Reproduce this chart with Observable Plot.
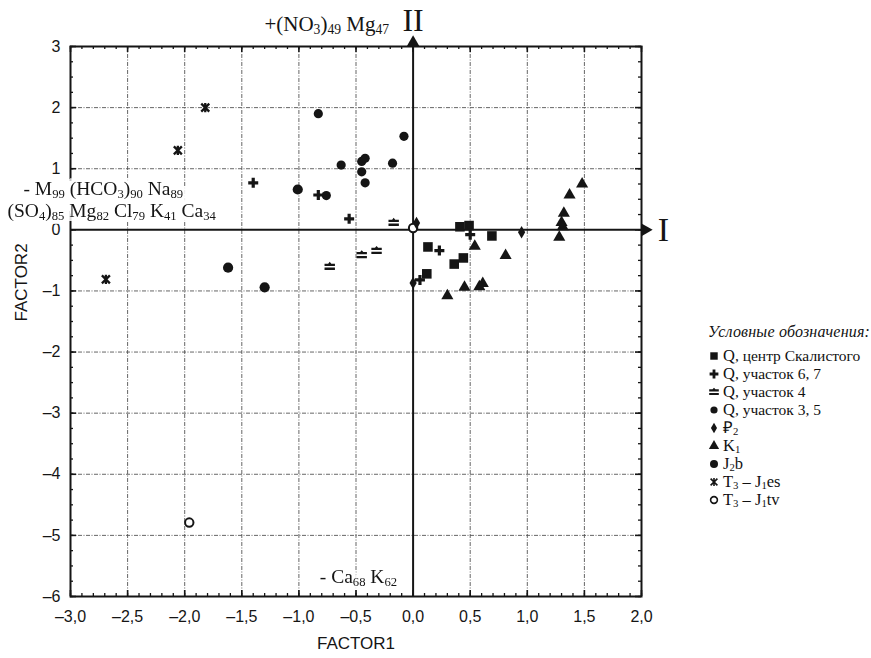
<!DOCTYPE html>
<html><head><meta charset="utf-8">
<script src="https://cdn.jsdelivr.net/npm/d3@7"></script>
<script src="https://cdn.jsdelivr.net/npm/@observablehq/plot@0.6"></script>
<style>
body{margin:0;background:#fff}
#wrap{position:relative;width:871px;height:658px;background:#fff}
#wrap svg.plot{position:absolute;left:0;top:0}
#legend{position:absolute;left:708px;top:323px;font-family:"Liberation Serif",serif;color:#111;white-space:nowrap}
#legend .ttl{font-style:italic;font-size:16px;line-height:18px;height:18px;letter-spacing:0.2px}
#legend .rows{margin-top:6px}
#legend .row{height:18px;line-height:16px;font-size:15.5px;display:flex;align-items:center;overflow:visible}
#legend .row svg{width:12px;height:12px;margin-right:3px;flex:none}
#legend .big{font-size:16.5px;line-height:16px}
#legend sub{font-size:65%;position:relative;top:2px;vertical-align:baseline;line-height:0}
</style></head><body><div id="wrap"></div>
<script>
// ---- data (FACTOR1, FACTOR2) ----
const qCenter  = [[0.41,0.05],[0.49,0.07],[0.69,-0.10],[0.13,-0.28],[0.44,-0.46],[0.36,-0.56],[0.12,-0.72]];
const qSite67  = [[-1.40,0.77],[-0.83,0.57],[-0.56,0.18],[0.50,-0.08],[0.23,-0.34],[0.06,-0.82]];
const qSite4   = [[-0.17,0.12],[-0.73,-0.60],[-0.45,-0.41],[-0.32,-0.34]];
const qSite35  = [[-0.83,1.90],[-0.08,1.53],[-0.63,1.06],[-0.45,1.12],[-0.42,1.17],[-0.18,1.09],[-0.45,0.95],[-0.42,0.77],[-0.76,0.56]];
const p2       = [[0.95,-0.04],[0.00,-0.87],[0.03,0.11]];
const k1       = [[0.54,-0.27],[0.81,-0.42],[0.45,-0.94],[0.30,-1.08],[0.58,-0.93],[0.61,-0.88],[1.48,0.75],[1.37,0.57],[1.32,0.27],[1.30,0.12],[1.31,0.05],[1.28,-0.12]];
const j2b      = [[-1.62,-0.62],[-1.30,-0.94],[-1.01,0.66]];
const t3j1es   = [[-1.82,2.00],[-2.06,1.30],[-2.69,-0.81]];
const t3j1tv   = [[-1.96,-4.79],[0.00,0.03]];

const xTicks = [-3,-2.5,-2,-1.5,-1,-0.5,0,0.5,1,1.5,2];
const yTicks = [-6,-5,-4,-3,-2,-1,0,1,2,3];
const xMinor = d3.range(-30, 21).map(i => i / 10);
const yMinor = d3.range(-24, 13).map(i => i / 4);

const annTop    = "+(NO_{3})_{49} Mg_{47}";
const annLeft1  = "- M_{99} (HCO_{3})_{90} Na_{89}";
const annLeft2  = "(SO_{4})_{85} Mg_{82} Cl_{79} K_{41} Ca_{34}";
const annBottom = "- Ca_{68} K_{62}";

// ---- custom symbols ----
const plusSym = {draw(c, size){ const r = Math.sqrt(size/Math.PI), t = r*0.32;
  c.moveTo(-r,-t); c.lineTo(-t,-t); c.lineTo(-t,-r); c.lineTo(t,-r); c.lineTo(t,-t); c.lineTo(r,-t);
  c.lineTo(r,t); c.lineTo(t,t); c.lineTo(t,r); c.lineTo(-t,r); c.lineTo(-t,t); c.lineTo(-r,t); c.closePath(); }};
const eqSym = {draw(c, size){ const r = Math.sqrt(size/Math.PI);
  c.moveTo(-r,-0.55*r); c.lineTo(-0.3*r,-0.55*r); c.lineTo(0,-0.9*r); c.lineTo(0.3*r,-0.55*r); c.lineTo(r,-0.55*r);
  c.lineTo(r,-0.1*r); c.lineTo(-r,-0.1*r); c.closePath();
  c.moveTo(-r,0.2*r); c.lineTo(r,0.2*r); c.lineTo(r,0.65*r); c.lineTo(-r,0.65*r); c.closePath(); }};
const astSym = {draw(c, size){ const r = Math.sqrt(size/Math.PI);
  c.moveTo(-r,-r); c.lineTo(r,r); c.moveTo(-r,r); c.lineTo(r,-r); c.moveTo(0,-r*1.15); c.lineTo(0,r*1.15); }};

const ink = "#151515";
const W = 871, H = 658, mL = 70, mR = 230, mT = 46, mB = 62;
const fw = W - mL - mR, fh = H - mT - mB;
const fmtX = d => (d < 0 ? "–" : "") + Math.abs(d).toFixed(1).replace(".", ",");
const fmtY = d => (d < 0 ? "–" : "") + Math.abs(d);
const px = d => d[0], py = d => d[1];
const serif = "Liberation Serif";
const grid = {stroke: "#555", strokeWidth: 1, strokeDasharray: "4 1.5 1 1.5", strokeOpacity: 0.9};
const ann = {fontSize: 19.5, fontFamily: serif, fill: ink};

const chart = Plot.plot({
  width: W, height: H, marginLeft: mL, marginRight: mR, marginTop: mT, marginBottom: mB,
  x: {domain: [-3, 2], label: null},
  y: {domain: [-6, 3], label: null},
  style: {fontFamily: "Liberation Sans, Arial, sans-serif", fontSize: "16px", color: ink, background: "white", overflow: "visible"},
  marks: [
    Plot.ruleX(xTicks.filter(v => v !== -3 && v !== 0 && v !== 2), grid),
    Plot.ruleY(yTicks.filter(v => v !== -6 && v !== 0 && v !== 3), grid),
    // minor / major ticks pointing inward on all four sides
    Plot.tickX(xMinor, {x: d => d, insetTop: fh - 3, stroke: ink, strokeWidth: 1.3}),
    Plot.tickX(xMinor, {x: d => d, insetBottom: fh - 3, stroke: ink, strokeWidth: 1.3}),
    Plot.tickX(xTicks, {x: d => d, insetTop: fh - 6, stroke: ink, strokeWidth: 1.6}),
    Plot.tickX(xTicks, {x: d => d, insetBottom: fh - 6, stroke: ink, strokeWidth: 1.6}),
    Plot.tickY(yMinor, {y: d => d, insetRight: fw - 3, stroke: ink, strokeWidth: 1.3}),
    Plot.tickY(yMinor, {y: d => d, insetLeft: fw - 3, stroke: ink, strokeWidth: 1.3}),
    Plot.tickY(yTicks, {y: d => d, insetRight: fw - 6, stroke: ink, strokeWidth: 1.6}),
    Plot.tickY(yTicks, {y: d => d, insetLeft: fw - 6, stroke: ink, strokeWidth: 1.6}),
    Plot.frame({stroke: ink, strokeWidth: 2}),
    Plot.axisX({ticks: xTicks, tickFormat: fmtX, tickSize: 0, tickPadding: 14, fontSize: 16, fill: ink, label: null}),
    Plot.axisY({ticks: yTicks, tickFormat: fmtY, tickSize: 0, tickPadding: 10, fontSize: 16, fill: ink, label: null}),
    // factor axes I and II
    Plot.ruleX([0], {stroke: ink, strokeWidth: 2}),
    Plot.ruleY([0], {stroke: ink, strokeWidth: 2}),
    Plot.dot([0], {x: 0, y: 3, symbol: "triangle", r: 4.6, dy: -4, fill: ink, stroke: "none"}),
    Plot.dot([0], {x: 2, y: 0, symbol: "triangle", r: 4.6, dx: 4, rotate: 90, fill: ink, stroke: "none"}),
    Plot.text(["II"], {x: 0, y: 3, dy: -26, fontSize: 32, fontFamily: serif, fill: ink}),
    Plot.text(["I"], {x: 2, y: 0, dx: 22, fontSize: 34, fontFamily: serif, fill: ink}),
    // annotations (§ = white halo applied after render)
    Plot.text([annTop], {...ann, x: 0, y: 3, textAnchor: "end", dx: -24, dy: -22, fontSize: 21}),
    Plot.text(["§" + annLeft1], {...ann, x: -3, y: 0, textAnchor: "start", dx: -47, dy: -41}),
    Plot.text(["§" + annLeft2], {...ann, x: -3, y: 0, textAnchor: "start", dx: -63, dy: -19.5}),
    Plot.text(["§" + annBottom], {...ann, x: 0, y: -6, textAnchor: "end", dx: -16, dy: -20}),
    Plot.text(["FACTOR1"], {frameAnchor: "bottom", dy: 52, fontSize: 17, fill: ink}),
    Plot.text(["FACTOR2"], {frameAnchor: "left", dx: -49, rotate: -90, fontSize: 17, fill: ink}),
    // data
    Plot.dot(qSite35, {x: px, y: py, symbol: "circle", r: 4.6, fill: ink, stroke: "none"}),
    Plot.dot(j2b, {x: px, y: py, symbol: "circle", r: 5.1, fill: ink, stroke: "none"}),
    Plot.dot(qSite4, {x: px, y: py, symbol: eqSym, r: 5.2, fill: ink, stroke: "none"}),
    Plot.dot(qSite67, {x: px, y: py, symbol: plusSym, r: 5, fill: ink, stroke: "none"}),
    Plot.dot(t3j1tv, {x: px, y: py, symbol: "circle", r: 4.2, fill: "white", stroke: ink, strokeWidth: 2}),
    Plot.dot(p2, {x: px, y: py, symbol: "diamond", r: 3.8, fill: ink, stroke: "none"}),
    Plot.dot(qCenter, {x: px, y: py, symbol: "square", r: 5.4, fill: ink, stroke: "none"}),
    Plot.dot(k1, {x: px, y: py, symbol: "triangle", r: 4.5, fill: ink, stroke: "none"}),
    Plot.dot(t3j1es, {x: px, y: py, symbol: astSym, r: 4, fill: "none", stroke: ink, strokeWidth: 2.3})
  ]
});

// halo filter + subscripts in annotations
d3.select(chart).append("defs").html(
  '<filter id="halo" x="-6%" y="-40%" width="112%" height="180%" color-interpolation-filters="sRGB">' +
  '<feMorphology in="SourceAlpha" operator="dilate" radius="3.5" result="d"/>' +
  '<feFlood flood-color="#ffffff" flood-opacity="1"/><feComposite in2="d" operator="in" result="w"/>' +
  '<feMerge><feMergeNode in="w"/><feMergeNode in="SourceGraphic"/></feMerge></filter>');
d3.select(chart).selectAll("text").each(function() {
  let t = this.textContent;
  if (!t.includes("_{")) return;
  const el = d3.select(this);
  if (t.startsWith("§")) { t = t.slice(1); el.attr("filter", "url(#halo)"); }
  el.text(null);
  let low = false;
  for (const p of t.split(/(_\{[^}]*\})/)) {
    if (!p) continue;
    if (p.startsWith("_{")) { el.append("tspan").attr("font-size", "65%").attr("dy", low ? 0 : 3).text(p.slice(2, -1)); low = true; }
    else { el.append("tspan").attr("dy", low ? -3 : 0).text(p); low = false; }
  }
});

const wrap = document.getElementById("wrap");
wrap.appendChild(chart);

// legend
const legendItems = [
  {sym: d3.symbolSquare, r: 4.2, fill: true, html: '<span class="big">Q</span>, центр Скалистого'},
  {sym: plusSym, r: 4.4, fill: true, html: '<span class="big">Q</span>, участок 6, 7'},
  {sym: eqSym, r: 4.8, fill: true, html: '<span class="big">Q</span>, участок 4'},
  {sym: d3.symbolCircle, r: 3.6, fill: true, html: '<span class="big">Q</span>, участок 3, 5'},
  {sym: d3.symbolDiamond, r: 3.2, fill: true, html: '<span class="big">₽<sub>2</sub></span>'},
  {sym: d3.symbolTriangle, r: 3.8, fill: true, html: '<span class="big">K<sub>1</sub></span>'},
  {sym: d3.symbolCircle, r: 4.0, fill: true, html: '<span class="big">J<sub>2</sub>b</span>'},
  {sym: astSym, r: 3.4, fill: false, html: '<span class="big">T<sub>3</sub> – J<sub>1</sub>es</span>'},
  {sym: d3.symbolCircle, r: 3.4, fill: false, open: true, html: '<span class="big">T<sub>3</sub> – J<sub>1</sub>tv</span>'}
];
const lg = document.createElement("div");
lg.id = "legend";
let rows = "";
for (const it of legendItems) {
  const path = d3.symbol(it.sym, Math.PI * it.r * it.r)();
  const paint = it.fill ? `fill="${ink}"` : (it.open ? `fill="white" stroke="${ink}" stroke-width="1.6"` : `fill="none" stroke="${ink}" stroke-width="1.6"`);
  rows += `<div class="row"><svg viewBox="-6 -6 12 12"><path d="${path}" ${paint}/></svg><span>${it.html}</span></div>`;
}
lg.innerHTML = `<div class="ttl">Условные обозначения:</div><div class="rows">${rows}</div>`;
wrap.appendChild(lg);
</script></body></html>
